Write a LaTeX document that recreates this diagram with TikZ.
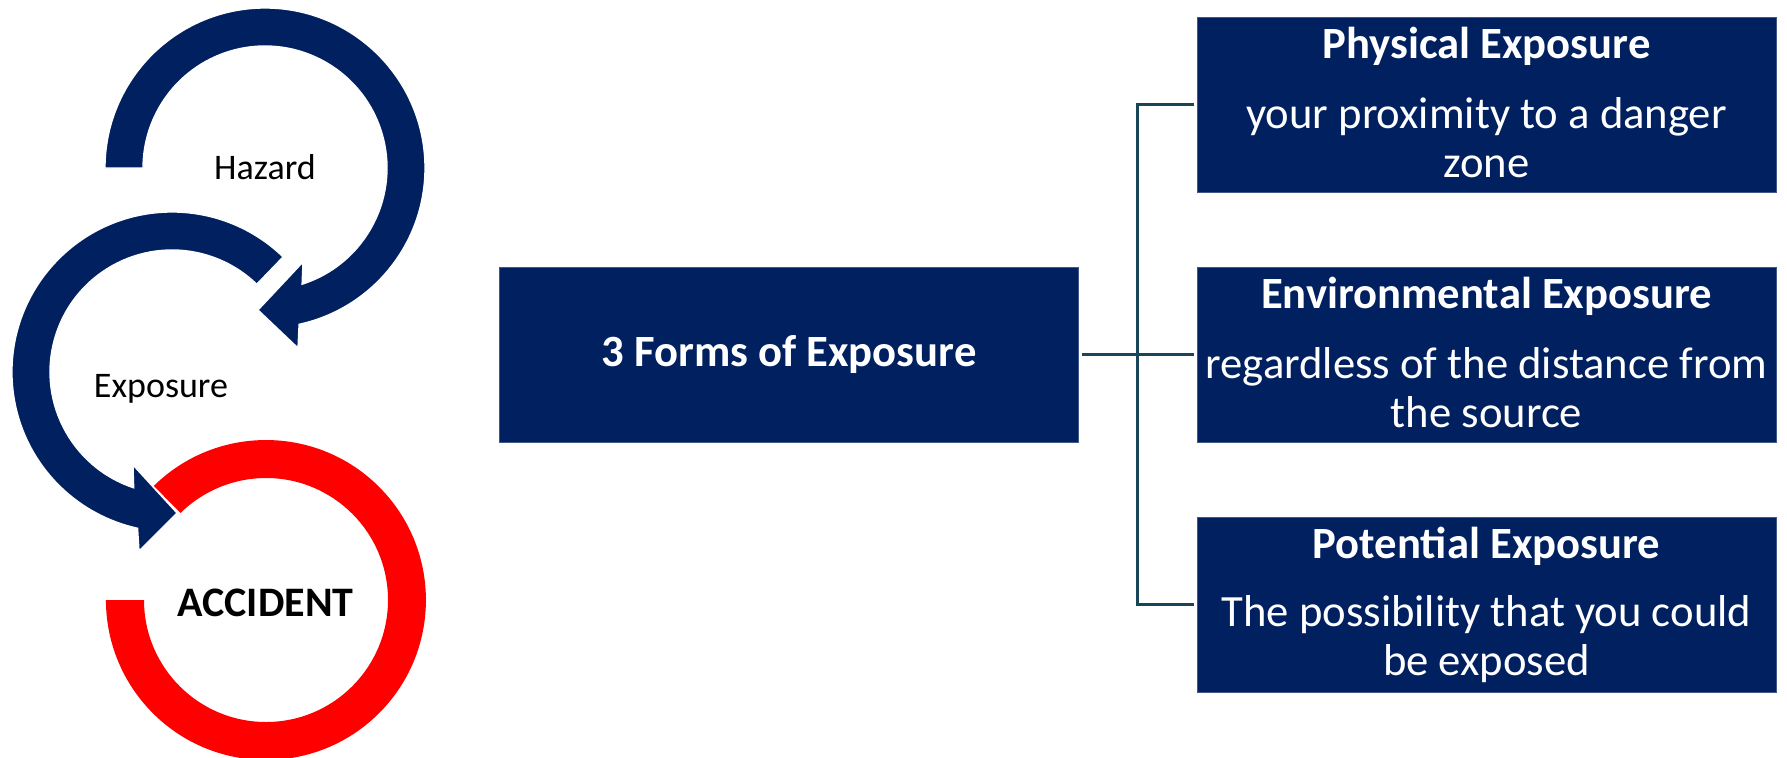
\documentclass[tikz,border=0pt]{standalone}
\usepackage{fontspec}
\setmainfont{Carlito}
\definecolor{navy}{RGB}{0,32,96}
\definecolor{linkteal}{RGB}{24,70,88}
\definecolor{accred}{RGB}{255,0,0}

\tikzset{every picture/.style={line width=0.9pt}}
\tikzset{
  navyring/.style={fill=navy, draw=white, line width=1pt},
  redring/.style={fill=accred},
  infobox/.style={fill=navy, draw=navy!75!white, line width=0.6pt, minimum width=434.25pt, minimum height=131.25pt, inner sep=0pt},
  ringlabel/.style={anchor=base, inner sep=0pt, font=\fontsize{27}{32}\selectfont},
  boxtitle/.style={anchor=base, inner sep=0pt, text=white, font=\fontsize{33.5}{36.75}\selectfont\bfseries},
  boxbody/.style={anchor=base, inner sep=0pt, text=white, align=center, font=\fontsize{33.5}{36.75}\selectfont},
  linkline/.style={draw=linkteal, line width=2pt, shorten <=2pt, shorten >=2pt},
}

\begin{document}
\begin{tikzpicture}[x=0.75pt,y=0.75pt,yscale=-1,xscale=1]
\useasboundingbox (0,0) rectangle (1787,757);

%Shape: Circular Arrow (accident ring)
\fill[redring] (153.8,485.9) arc[start angle=-134.5, end angle=180, radius=160] -- (144,600) arc[start angle=180, end angle=-134.5, radius=122] -- cycle;
%Shape: Circular Arrow (exposure)
\filldraw[navyring] (283.1,256.9) arc[start angle=-46, end angle=-257.6, radius=160] -- (139,551) -- (177,513) -- (133,465) -- (133.7,487.8) arc[start angle=-251.7, end angle=-46, radius=122] -- cycle;
%Shape: Circular Arrow (hazard)
\filldraw[navyring] (105,168) arc[start angle=180, end angle=437.7, radius=160] -- (298,348) -- (258,310) -- (303,262) -- (302.1,284.2) arc[start angle=432.3, end angle=180, radius=122] -- cycle;

% Text Node
\node[ringlabel] (hazard) at (265,179) {Hazard};
% Text Node
\node[ringlabel] (exposure) at (161,397) {Exposure};
% Text Node
\node[ringlabel, font=\fontsize{31.5}{36}\selectfont\bfseries] (accident) at (265.5,616) {ACCIDENT};

%Shape: Rectangle
\node[infobox, text=white, font=\fontsize{33.5}{36.75}\selectfont\bfseries] (forms) at (789,354.5) {3 Forms of Exposure};
%Shape: Rectangle
\node[infobox] (physical) at (1486.5,104.5) {};
%Shape: Rectangle
\node[infobox] (environ) at (1486.5,354.5) {};
%Shape: Rectangle
\node[infobox] (potential) at (1486.5,604.5) {};

%Straight Lines
\coordinate (spine) at (1137.5,354.5);
\draw[linkline] (forms.east) -- (environ.west);
\draw[linkline] (physical.west) -| (spine) |- (potential.west);

% Text Node
\node[boxtitle] (phystitle) at (1486.5,58) {Physical Exposure};
% Text Node
\node[boxbody] (phystext) at (1486.5,177) {your proximity to a danger\\zone};
% Text Node
\node[boxtitle] (envtitle) at (1486.5,308) {Environmental Exposure};
% Text Node
\node[boxbody] (envtext) at (1486.5,427) {regardless of the distance from\\the source};
% Text Node
\node[boxtitle] (pottitle) at (1486.5,558) {Potential Exposure};
% Text Node
\node[boxbody] (pottext) at (1486.5,675) {The possibility that you could\\be exposed};

\end{tikzpicture}
\end{document}
